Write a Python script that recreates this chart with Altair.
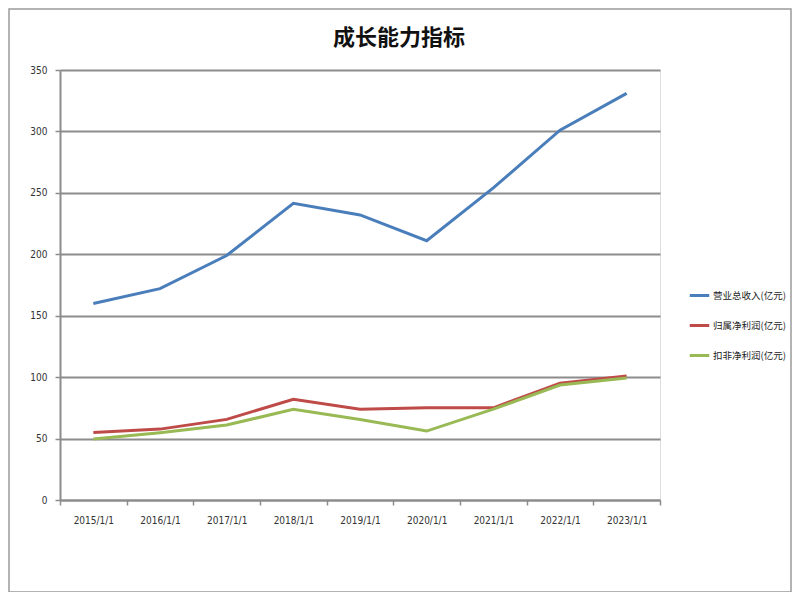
import altair as alt
import pandas as pd

dates = ["2015/1/1", "2016/1/1", "2017/1/1", "2018/1/1", "2019/1/1",
         "2020/1/1", "2021/1/1", "2022/1/1", "2023/1/1"]
series_names = ["营业总收入(亿元)", "归属净利润(亿元)", "扣非净利润(亿元)"]
revenue = [160, 172, 199, 241.5, 232, 211, 254, 301, 331]
net_profit = [55, 57.7, 65.6, 82, 73.8, 75.1, 75, 95, 101]
deducted_profit = [49.6, 54.8, 61, 73.8, 65.6, 56.1, 74, 93.6, 99.3]
colors = ["#4a7ebb", "#be4b48", "#98b954"]
title_text = ["成长能力指标"]

rows = []
for name, vals in zip(series_names, [revenue, net_profit, deducted_profit]):
    for d, v in zip(dates, vals):
        rows.append({"date": d, "value": v, "series": name})
df = pd.DataFrame(rows)

axis_font = "Liberation Sans Narrow, DejaVu Sans Condensed, sans-serif"
grey = "#8c8c8c"

lines = alt.Chart(df).mark_line(strokeWidth=3).encode(
    x=alt.X("date:N", sort=dates, title=None,
            scale=alt.Scale(paddingInner=0, paddingOuter=0),
            axis=alt.Axis(labelAngle=0, tickBand="extent", grid=False,
                          domainColor=grey, domainWidth=2, tickColor=grey,
                          tickWidth=1.5, tickSize=5, labelFont=axis_font,
                          labelFontSize=10, labelColor="#333333",
                          labelPadding=10)),
    y=alt.Y("value:Q", title=None,
            scale=alt.Scale(domain=[0, 350], nice=False),
            axis=alt.Axis(values=[0, 50, 100, 150, 200, 250, 300, 350],
                          grid=True, gridColor=grey, gridWidth=2,
                          domainColor=grey, domainWidth=2, tickColor=grey,
                          tickWidth=1.5, tickSize=5, labelFont=axis_font,
                          labelFontSize=10, labelColor="#333333",
                          labelPadding=8)),
    color=alt.Color("series:N", sort=series_names,
                    scale=alt.Scale(domain=series_names, range=colors),
                    legend=alt.Legend(title=None, orient="none",
                                      legendX=628, legendY=214,
                                      symbolType="stroke", symbolSize=380,
                                      symbolStrokeWidth=3,
                                      labelFont="Noto Sans CJK SC",
                                      labelFontSize=9.5, labelColor="#1a1a1a",
                                      labelLimit=200, rowPadding=12,
                                      labelOffset=2)),
)

frame = alt.Chart(pd.DataFrame({"a": [0]})).mark_rect(
    fill=None, stroke="#9a9a9a", strokeWidth=1.5
).encode(
    x=alt.value(-51), x2=alt.value(731), y=alt.value(-61), y2=alt.value(522)
)

title = alt.Chart(pd.DataFrame({"t": title_text})).mark_text(
    font="Noto Sans CJK SC", fontSize=22, fontWeight="bold", color="#111111",
    align="center", baseline="middle"
).encode(text="t:N", x=alt.value(339), y=alt.value(-32))

chart = alt.layer(frame, lines, title).properties(
    width=600, height=430,
    padding={"left": 52, "top": 62, "right": 132, "bottom": 92},
    autosize=alt.AutoSizeParams(type="none"),
).configure_view(stroke=None).configure(background="white")

chart.save("out.html", embed_options={"renderer": "svg", "actions": False})
